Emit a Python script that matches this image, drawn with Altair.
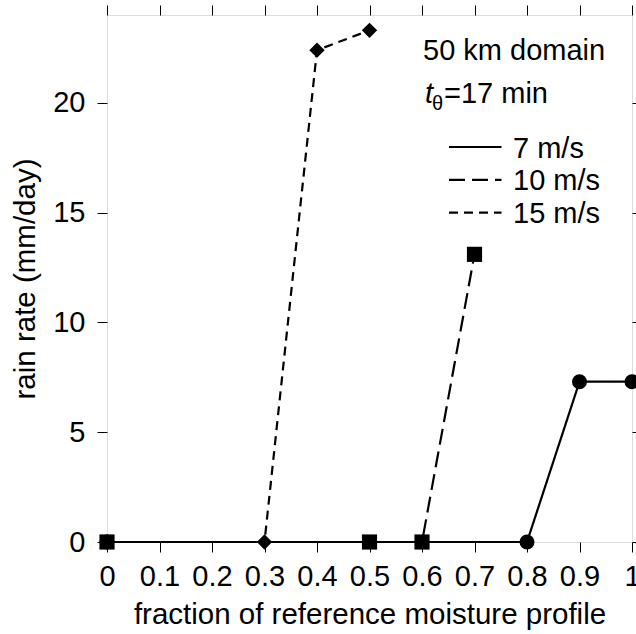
import altair as alt
import pandas as pd

# ---- data ----
speeds = ["7 m/s", "10 m/s", "15 m/s"]
fraction_7 = [0.0, 0.8, 0.9, 1.0]
rain_7 = [0.0, 0.0, 7.3, 7.3]
fraction_10 = [0.0, 0.5, 0.6, 0.7]
rain_10 = [0.0, 0.0, 0.0, 13.1]
fraction_15 = [0.0, 0.3, 0.4, 0.5]
rain_15 = [0.0, 0.0, 22.4, 23.3]

x_ticks = [0, 0.1, 0.2, 0.3, 0.4, 0.5, 0.6, 0.7, 0.8, 0.9, 1.0]
y_ticks = [0, 5, 10, 15, 20]

rows = []
for s, fx, ry in [(speeds[0], fraction_7, rain_7),
                  (speeds[1], fraction_10, rain_10),
                  (speeds[2], fraction_15, rain_15)]:
    for a, b in zip(fx, ry):
        rows.append({"speed": s, "marker": s, "fraction": a, "rain": b})
df = pd.DataFrame(rows)
# points: squares (10 m/s) drawn last
pts = pd.concat([df[df.speed == "7 m/s"], df[df.speed == "15 m/s"], df[df.speed == "10 m/s"]])

FONT = "Liberation Sans"
FS = 29
TFS = 29.5

xscale = alt.Scale(domain=[0, 1], nice=False, zero=False)
yscale = alt.Scale(domain=[0, 24], nice=False)

dashes = [[1, 0], [16, 7], [9, 6]]
dash_scale = alt.Scale(domain=speeds, range=dashes)

lines = alt.Chart(df).mark_line(color="black", strokeWidth=2.2).encode(
    x=alt.X("fraction:Q", scale=xscale,
            axis=alt.Axis(values=x_ticks, format="~g", title="fraction of reference moisture profile",
                          orient="bottom", domain=False, grid=False, tickSize=10, tickColor="black",
                          labelFontSize=FS, titleFontSize=TFS, labelPadding=10, titlePadding=9,
                          labelColor="black", titleColor="black", titleFontWeight="normal",
                          labelFlush=False, labelFont=FONT, titleFont=FONT)),
    y=alt.Y("rain:Q", scale=yscale,
            axis=alt.Axis(values=y_ticks, title="rain rate (mm/day)", orient="left", domain=False,
                          grid=False, tickSize=10, tickColor="black", labelFontSize=FS,
                          titleFontSize=TFS, labelPadding=12, titlePadding=12, labelColor="black",
                          titleColor="black", titleFontWeight="normal", labelFlush=False,
                          labelFont=FONT, titleFont=FONT)),
    strokeDash=alt.StrokeDash("speed:N", scale=dash_scale, sort=speeds, legend=None),
    detail="speed:N",
)

points = alt.Chart(pts).mark_point(filled=True, color="black", opacity=1).encode(
    x=alt.X("fraction:Q", scale=xscale, axis=None),
    y=alt.Y("rain:Q", scale=yscale, axis=None),
    shape=alt.Shape("marker:N", scale=alt.Scale(domain=speeds, range=["circle", "square", "diamond"]),
                    legend=None),
    size=alt.Size("marker:N", scale=alt.Scale(domain=speeds, range=[225, 235, 200]), legend=None),
)

# frame ticks on top and right
frame_df = pd.DataFrame({"fraction": [0.0], "rain": [0.0]})
frame = alt.Chart(frame_df).mark_point(opacity=0).encode(
    x=alt.X("fraction:Q", scale=xscale,
            axis=alt.Axis(values=x_ticks, orient="top", labels=False, title=None, domain=False,
                          grid=False, tickSize=10, tickColor="black")),
    y=alt.Y("rain:Q", scale=yscale,
            axis=alt.Axis(values=y_ticks, orient="right", labels=False, title=None, domain=False,
                          grid=False, tickSize=10, tickColor="black")),
)

# annotations
ann1 = alt.Chart(frame_df).mark_text(text="50 km domain", font=FONT, fontSize=FS, align="left",
                                     baseline="alphabetic", color="black").encode(
    x=alt.value(316), y=alt.value(45))
ann_t = alt.Chart(frame_df).mark_text(text="t", font=FONT, fontSize=FS, fontStyle="italic",
                                      align="left", baseline="alphabetic", color="black").encode(
    x=alt.value(318), y=alt.value(88))
ann_th = alt.Chart(frame_df).mark_text(text="θ", font=FONT, fontSize=20, align="left",
                                       baseline="alphabetic", color="black").encode(
    x=alt.value(325), y=alt.value(95))
ann_eq = alt.Chart(frame_df).mark_text(text="=17 min", font=FONT, fontSize=FS, align="left",
                                       baseline="alphabetic", color="black").encode(
    x=alt.value(337), y=alt.value(88))

# hand-drawn legend
legend_layers = []
for i, (s, d) in enumerate(zip(speeds, dashes)):
    yy = 132 + i * 32.8
    legend_layers.append(
        alt.Chart(frame_df).mark_rule(color="black", strokeWidth=2.2, strokeDash=d).encode(
            x=alt.value(342), x2=alt.value(394.5), y=alt.value(yy))
    )
    legend_layers.append(
        alt.Chart(frame_df).mark_text(text=s, font=FONT, fontSize=FS, align="left",
                                      baseline="alphabetic", color="black").encode(
            x=alt.value(406), y=alt.value(yy + 10.5))
    )

chart = alt.layer(lines, points, frame, ann1, ann_t, ann_th, ann_eq, *legend_layers).resolve_axis(
    x="independent", y="independent"
).properties(
    width=525, height=527,
    autosize=alt.AutoSizeParams(type="none"),
    padding={"left": 107, "top": 15, "right": 4, "bottom": 92},
    background="white",
).configure_view(stroke="black", strokeWidth=1).configure(font=FONT)

chart.save("out.html", embed_options={"renderer": "svg", "actions": False})
